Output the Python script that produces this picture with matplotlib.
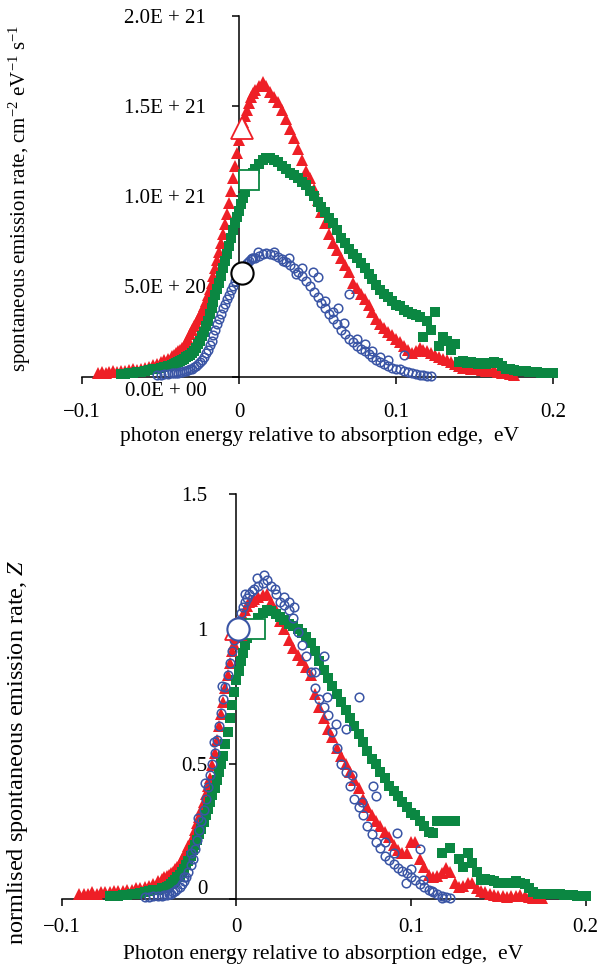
import matplotlib
matplotlib.use("Agg")
import matplotlib.pyplot as plt

plt.rcParams["font.family"] = ["Liberation Serif", "DejaVu Serif"]
plt.rcParams["mathtext.fontset"] = "custom"
plt.rcParams["mathtext.rm"] = "Liberation Serif"
plt.rcParams["mathtext.it"] = "Liberation Serif:italic"

RED = "#ee1f26"
GREEN = "#0b8742"
BLUE = "#3a55a5"

# photon energy grid relative to absorption edge, eV
ENERGY = [
    -0.0900, -0.0875, -0.0850, -0.0825, -0.0800, -0.0775, -0.0750, -0.0725, -0.0700, -0.0675,
    -0.0650, -0.0625, -0.0600, -0.0575, -0.0550, -0.0525, -0.0500, -0.0475, -0.0450, -0.0425,
    -0.0400, -0.0375, -0.0350, -0.0325, -0.0300, -0.0275, -0.0250, -0.0225, -0.0200, -0.0175,
    -0.0150, -0.0125, -0.0100, -0.0075, -0.0050, -0.0025, 0.0000, 0.0025, 0.0050, 0.0075,
    0.0100, 0.0125, 0.0150, 0.0175, 0.0200, 0.0225, 0.0250, 0.0275, 0.0300, 0.0325,
    0.0350, 0.0375, 0.0400, 0.0425, 0.0450, 0.0475, 0.0500, 0.0525, 0.0550, 0.0575,
    0.0600, 0.0625, 0.0650, 0.0675, 0.0700, 0.0725, 0.0750, 0.0775, 0.0800, 0.0825,
    0.0850, 0.0875, 0.0900, 0.0925, 0.0950, 0.0975, 0.1000, 0.1025, 0.1050, 0.1075,
    0.1100, 0.1125, 0.1150, 0.1175, 0.1200, 0.1225, 0.1250, 0.1275, 0.1300, 0.1325,
    0.1350, 0.1375, 0.1400, 0.1425, 0.1450, 0.1475, 0.1500, 0.1525, 0.1550, 0.1575,
    0.1600, 0.1625, 0.1650, 0.1675, 0.1700, 0.1725, 0.1750, 0.1775, 0.1800, 0.1825,
    0.1850, 0.1875, 0.1900, 0.1925, 0.1950, 0.1975, 0.2000,
]
# extra energies on the steep rising edge, where the measurement is denser
ENERGY_RISE = [
    -0.04125, -0.03875, -0.03625, -0.03375, -0.03125, -0.02875, -0.02625, -0.02375,
    -0.02125, -0.01875, -0.01625, -0.01375, -0.01125, -0.00875, -0.00625, -0.00375,
    -0.00125, 0.00125, 0.00375, 0.00625, 0.00875,
]

# --- top panel: spontaneous emission rate, in units of 1E+21 cm^-2 eV^-1 s^-1 ---
top_red_start = -0.090
top_red = [
    0.02, 0.025, 0.02, 0.025, 0.03, 0.025, 0.03, 0.03, 0.035, 0.04,
    0.035, 0.045, 0.05, 0.055, 0.065, 0.07, 0.08, 0.09, 0.10, 0.115,
    0.13, 0.15, 0.17, 0.21, 0.26, 0.30, 0.34, 0.39, 0.45, 0.52,
    0.60, 0.69, 0.79, 0.90, 1.03, 1.17, 1.31, 1.41, 1.48, 1.55,
    1.59, 1.61, 1.63, 1.61, 1.58, 1.55, 1.52, 1.48, 1.43, 1.37,
    1.32, 1.26, 1.20, 1.14, 1.10, 1.04, 0.98, 0.91, 0.85, 0.79,
    0.74, 0.70, 0.66, 0.62, 0.58, 0.52, 0.49, 0.46, 0.43, 0.40,
    0.36, 0.32, 0.29, 0.27, 0.25, 0.23, 0.21, 0.19, 0.17, 0.15,
    0.13, 0.14, 0.16, 0.15, 0.14, 0.13, 0.12, 0.11, 0.10, 0.09,
    0.08, 0.07, 0.06, 0.05, 0.05, 0.045, 0.04, 0.04, 0.035, 0.03,
    0.03, 0.035, 0.025, 0.02, 0.02, 0.015, 0.01,
]
top_red_rise = [0.12, 0.14, 0.16, 0.19, 0.235, 0.28, 0.32, 0.365, 0.42, 0.485, 0.56,
                0.645, 0.74, 0.845, 0.965, 1.10, 1.24, 1.36, 1.445, 1.515, 1.57]
top_green_start = -0.075
top_green = [
    0.015, 0.015, 0.02, 0.02, 0.025, 0.025, 0.03, 0.035, 0.04, 0.045,
    0.05, 0.055, 0.06, 0.065, 0.075, 0.085, 0.10, 0.115, 0.13, 0.16,
    0.20, 0.25, 0.31, 0.38, 0.45, 0.52, 0.60, 0.68, 0.77, 0.85,
    0.92, 0.99, 1.06, 1.11, 1.15, 1.18, 1.20, 1.21, 1.21, 1.20,
    1.19, 1.17, 1.15, 1.13, 1.12, 1.10, 1.08, 1.06, 1.03, 1.00,
    0.97, 0.94, 0.91, 0.88, 0.85, 0.81, 0.77, 0.74, 0.71, 0.68,
    0.66, 0.63, 0.60, 0.57, 0.54, 0.51, 0.48, 0.46, 0.44, 0.42,
    0.40, 0.39, 0.37, 0.36, 0.35, 0.34, 0.33, 0.22, 0.31, 0.26,
    0.36, 0.17, 0.22, 0.20, 0.15, 0.18, 0.08, 0.085, 0.075, 0.08,
    0.075, 0.07, 0.075, 0.07, 0.075, 0.08, 0.075, 0.06, 0.04, 0.04,
    0.035, 0.03, 0.03, 0.03, 0.025, 0.025, 0.025, 0.02, 0.02, 0.02,
    0.02,
]
top_green_rise = [0.07, 0.08, 0.092, 0.107, 0.122, 0.145, 0.18, 0.225, 0.28, 0.345, 0.415,
                  0.485, 0.56, 0.64, 0.725, 0.81, 0.885, 0.955, 1.025, 1.085, 1.13]
top_blue_start = -0.0525
top_blue = [
    0.01, 0.01, 0.015, 0.015, 0.02, 0.02, 0.025, 0.03, 0.035, 0.045,
    0.06, 0.08, 0.11, 0.15, 0.20, 0.26, 0.32, 0.38, 0.43, 0.48,
    0.53, 0.56, 0.60, 0.63, 0.65, 0.66, 0.67, 0.68, 0.685, 0.68,
    0.675, 0.665, 0.65, 0.635, 0.62, 0.60, 0.58, 0.56, 0.53, 0.50,
    0.47, 0.44, 0.41, 0.38, 0.35, 0.32, 0.29, 0.26, 0.235, 0.21,
    0.19, 0.17, 0.155, 0.14, 0.125, 0.11, 0.095, 0.08, 0.07, 0.06,
    0.05, 0.045, 0.04, 0.03, 0.025, 0.02, 0.015, 0.01, 0.01, 0.005,
    0.005,
]
top_blue_rise = [0.02, 0.022, 0.027, 0.032, 0.04, 0.052, 0.07, 0.095, 0.13, 0.175, 0.23,
                 0.29, 0.35, 0.405, 0.455, 0.505, 0.545, 0.58, 0.615, 0.64, 0.655]
top_blue_scatter_x = [0.008, 0.012, 0.022, 0.028, 0.032, 0.036, 0.040, 0.047, 0.050, 0.055,
                      0.060, 0.063, 0.067, 0.070, 0.075, 0.080, 0.085, 0.090, 0.095, 0.105]
top_blue_scatter_y = [0.66, 0.69, 0.69, 0.64, 0.66, 0.57, 0.60, 0.58, 0.55, 0.42,
                      0.36, 0.38, 0.30, 0.46, 0.21, 0.18, 0.14, 0.11, 0.09, 0.12]
# values at the absorption edge (large open markers)
top_edge_x = {"red": 0.002, "green": 0.0065, "blue": 0.002}
top_edge_y = {"red": 1.38, "green": 1.09, "blue": 0.575}

# --- bottom panel: normalised rate Z ---
bot_red_start = -0.090
bot_red = [
    0.02, 0.02, 0.02, 0.025, 0.02, 0.025, 0.025, 0.025, 0.03, 0.03,
    0.03, 0.035, 0.035, 0.04, 0.04, 0.045, 0.05, 0.055, 0.065, 0.075,
    0.085, 0.095, 0.11, 0.135, 0.16, 0.195, 0.23, 0.28, 0.33, 0.39,
    0.45, 0.54, 0.64, 0.73, 0.83, 0.92, 0.97, 1.03, 1.07, 1.10,
    1.11, 1.12, 1.125, 1.13, 1.10, 1.07, 1.03, 1.00, 0.96, 0.93,
    0.905, 0.885, 0.86, 0.83, 0.76, 0.71, 0.67, 0.63, 0.60, 0.56,
    0.53, 0.50, 0.47, 0.44, 0.41, 0.37, 0.34, 0.31, 0.29, 0.27,
    0.25, 0.23, 0.20, 0.18, 0.17, 0.17, 0.21, 0.21, 0.15, 0.12,
    0.09, 0.08, 0.085, 0.095, 0.115, 0.10, 0.06, 0.045, 0.05, 0.06,
    0.06, 0.04, 0.03, 0.027, 0.02, 0.015, 0.012, 0.01, 0.008, 0.01,
    0.012, 0.015, 0.012, 0.008, 0.005, 0.005, 0.003,
]
bot_red_rise = [0.08, 0.09, 0.10, 0.12, 0.147, 0.177, 0.212, 0.255, 0.305, 0.36, 0.42,
                0.495, 0.59, 0.685, 0.78, 0.875, 0.945, 1.0, 1.05, 1.085, 1.105]
bot_green_start = -0.0725
bot_green = [
    0.01, 0.012, 0.012, 0.015, 0.015, 0.018, 0.02, 0.022, 0.025, 0.028,
    0.032, 0.035, 0.04, 0.045, 0.055, 0.07, 0.09, 0.11, 0.14, 0.18,
    0.22, 0.26, 0.31, 0.36, 0.41, 0.47, 0.53, 0.62, 0.72, 0.81,
    0.88, 0.94, 0.99, 1.02, 1.04, 1.06, 1.07, 1.065, 1.055, 1.045,
    1.035, 1.02, 1.01, 1.0, 0.985, 0.97, 0.95, 0.92, 0.88, 0.85,
    0.82, 0.79, 0.76, 0.73, 0.70, 0.67, 0.64, 0.61, 0.58, 0.55,
    0.52, 0.50, 0.47, 0.45, 0.42, 0.40, 0.38, 0.36, 0.34, 0.32,
    0.31, 0.29, 0.27, 0.25, 0.245, 0.29, 0.17, 0.29, 0.19, 0.29,
    0.15, 0.12, 0.17, 0.135, 0.10, 0.07, 0.075, 0.07, 0.065, 0.06,
    0.06, 0.06, 0.06, 0.065, 0.06, 0.055, 0.04, 0.025, 0.02, 0.02,
    0.02, 0.02, 0.02, 0.018, 0.015, 0.015, 0.015, 0.012, 0.012, 0.012,
]
bot_green_rise = [0.042, 0.05, 0.062, 0.08, 0.10, 0.125, 0.16, 0.20, 0.24, 0.285, 0.335,
                  0.385, 0.44, 0.50, 0.575, 0.67, 0.765, 0.845, 0.91, 0.965, 1.005]
bot_blue_start = -0.0525
bot_blue = [
    0.008, 0.008, 0.01, 0.01, 0.012, 0.015, 0.02, 0.03, 0.045, 0.065,
    0.10, 0.15, 0.22, 0.29, 0.37, 0.46, 0.54, 0.64, 0.74, 0.83,
    0.92, 1.00, 1.06, 1.10, 1.13, 1.15, 1.16, 1.17, 1.18, 1.16,
    1.13, 1.10, 1.09, 1.07, 1.04, 0.99, 0.94, 0.90, 0.84, 0.78,
    0.74, 0.71, 0.68, 0.62, 0.56, 0.50, 0.47, 0.42, 0.37, 0.34,
    0.31, 0.27, 0.24, 0.21, 0.19, 0.16, 0.145, 0.13, 0.115, 0.105,
    0.095, 0.08, 0.07, 0.055, 0.045, 0.035, 0.025, 0.02, 0.012, 0.008,
    0.005,
]
bot_blue_rise = [0.013, 0.017, 0.025, 0.037, 0.055, 0.082, 0.125, 0.185, 0.255, 0.33, 0.415,
                 0.50, 0.59, 0.69, 0.785, 0.875, 0.96, 1.03, 1.08, 1.115, 1.14]
bot_blue_scatter_x = [-0.030, -0.026, -0.022, -0.018, -0.013, -0.008, 0.005, 0.012, 0.016, 0.022,
                      0.027, 0.030, 0.033, 0.045, 0.050, 0.052, 0.057, 0.063, 0.066, 0.070,
                      0.072, 0.078, 0.080, 0.085, 0.090, 0.092, 0.097, 0.100, 0.105, 0.107,
                      0.112, 0.118]
bot_blue_scatter_y = [0.08, 0.17, 0.30, 0.43, 0.58, 0.79, 1.13, 1.19, 1.20, 1.15,
                      1.12, 1.10, 1.08, 0.84, 0.90, 0.75, 0.65, 0.63, 0.46, 0.75,
                      0.36, 0.42, 0.38, 0.21, 0.17, 0.245, 0.06, 0.11, 0.185, 0.07,
                      0.03, 0.005]
bot_edge_x = {"red": 0.0, "green": 0.0104, "blue": 0.0007}
bot_edge_y = {"red": 1.0, "green": 1.0, "blue": 1.0}

x_ticks = [-0.1, 0.0, 0.1, 0.2]
x_ticklabels = ["\u22120.1", "0", "0.1", "0.2"]
top_yticks = [0.0, 0.5, 1.0, 1.5, 2.0]
top_yticklabels = ["", "5.0E + 20", "1.0E + 21", "1.5E + 21", "2.0E + 21"]
bot_yticks = [0.0, 0.5, 1.0, 1.5]
bot_yticklabels = ["0", "0.5", "1", "1.5"]

TICK_FS = 15
LABEL_FS = 15.5


def series(start, values, rise):
    i = ENERGY.index(start)
    xs = ENERGY[i:i + len(values)]
    assert len(xs) == len(values) and len(rise) == len(ENERGY_RISE)
    return xs + ENERGY_RISE, values + rise


def style_axes(ax, ylim, yticks, yticklabels, xpad, ypad):
    ax.set_xlim(-0.1, 0.2)
    ax.set_ylim(*ylim)
    ax.patch.set_visible(False)
    for side in ("top", "right"):
        ax.spines[side].set_visible(False)
    ax.spines["left"].set_position(("data", 0))
    for side in ("left", "bottom"):
        ax.spines[side].set_linewidth(1.1)
        ax.spines[side].set_zorder(1)
    ax.set_xticks(x_ticks, x_ticklabels)
    ax.set_yticks(yticks, yticklabels)
    ax.tick_params(axis="both", direction="out", length=5, width=1.1,
                   labelsize=TICK_FS, color="black")
    ax.tick_params(axis="x", pad=xpad)
    ax.tick_params(axis="y", pad=ypad)


def draw_panel(ax, red, green, blue, scatter, edge_x, edge_y, edge_circle_color):
    ax.plot(red[0], red[1], ls="none", marker="^", ms=8.5, mfc=RED, mec=RED, mew=0,
            clip_on=False, zorder=3)
    ax.plot(green[0], green[1], ls="none", marker="s", ms=7, mfc=GREEN, mec=GREEN, mew=0,
            clip_on=False, zorder=4)
    ax.plot(blue[0], blue[1], ls="none", marker="o", ms=6.2, mfc="none", mec=BLUE, mew=1.1,
            clip_on=False, zorder=5)
    ax.plot(scatter[0], scatter[1], ls="none", marker="o", ms=6.2, mfc="none", mec=BLUE,
            mew=1.1, clip_on=False, zorder=5)
    ax.plot(edge_x["red"], edge_y["red"], marker="^", ms=16, mfc="white", mec=RED,
            mew=1.3, zorder=6, clip_on=False)
    ax.plot(edge_x["green"], edge_y["green"], marker="s", ms=14, mfc="white", mec=GREEN,
            mew=1.3, zorder=6, clip_on=False)
    ax.plot(edge_x["blue"], edge_y["blue"], marker="o", ms=16, mfc="white",
            mec=edge_circle_color, mew=1.5, zorder=7, clip_on=False)


fig = plt.figure(figsize=(5.99, 9.69), dpi=100)
W, H = 599.0, 969.0
ax1 = fig.add_axes([82 / W, 1 - 376.7 / H, (553 - 82) / W, (376.7 - 15.7) / H])
ax2 = fig.add_axes([61.7 / W, 1 - 899 / H, (585.7 - 61.7) / W, (899 - 494) / H])

style_axes(ax1, (0, 2.0), top_yticks, top_yticklabels, xpad=14, ypad=19)
style_axes(ax2, (0, 1.5), bot_yticks, bot_yticklabels, xpad=9, ypad=16)

draw_panel(
    ax1,
    series(top_red_start, top_red, top_red_rise),
    series(top_green_start, top_green, top_green_rise),
    series(top_blue_start, top_blue, top_blue_rise),
    (top_blue_scatter_x, top_blue_scatter_y),
    top_edge_x, top_edge_y, "black",
)
draw_panel(
    ax2,
    series(bot_red_start, bot_red, bot_red_rise),
    series(bot_green_start, bot_green, bot_green_rise),
    series(bot_blue_start, bot_blue, bot_blue_rise),
    (bot_blue_scatter_x, bot_blue_scatter_y),
    bot_edge_x, bot_edge_y, BLUE,
)

# zero label of the top panel sits below the axis line
ax1.annotate("0.0E + 00", xy=(0, 0), xycoords="data", xytext=(-32, -15),
             textcoords="offset pixels", ha="right", va="center", fontsize=TICK_FS)
# the bottom panel's zero label sits just above the axis line
for lbl in ax2.get_yticklabels():
    if lbl.get_text() == "0":
        lbl.set_verticalalignment("bottom")

fig.text(20 / W, 1 - 198 / H,
         "spontaneous emission rate, cm$^{-2}$ eV$^{-1}$ s$^{-1}$",
         rotation=90, ha="center", va="center", fontsize=15)
fig.text(320 / W, 1 - 437 / H, "photon energy relative to absorption edge,  eV",
         ha="center", va="center", fontsize=LABEL_FS)
fig.text(18 / W, 1 - 752 / H, "normlised spontaneous emission rate, $Z$",
         rotation=90, ha="center", va="center", fontsize=17.5)
fig.text(323 / W, 1 - 955 / H, "Photon energy relative to absorption edge,  eV",
         ha="center", va="center", fontsize=LABEL_FS)

fig.savefig("out.png", dpi=100)
